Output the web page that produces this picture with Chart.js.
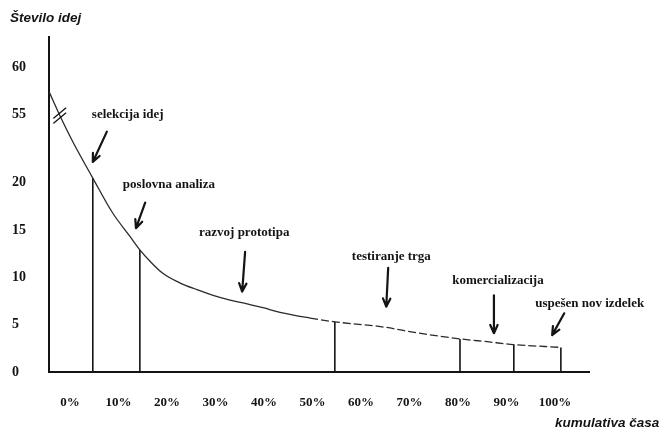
<!DOCTYPE html>
<html>
<head>
<meta charset="utf-8">
<script src="https://cdn.jsdelivr.net/npm/chart.js@4/dist/chart.umd.min.js"></script>
<style>
  html, body { margin: 0; background: #fff; }
  #wrap { width: 663px; height: 430px; }
</style>
</head>
<body>
<div id="wrap"><canvas id="chart" width="663" height="430"></canvas></div>
<script>
// ── data ──────────────────────────────────────────────────────────────────────
const xTicks = [0, 10, 20, 30, 40, 50, 60, 70, 80, 90, 100];
const yTicks = [0, 5, 10, 15, 20, 55, 60];

// number of ideas along cumulative time (%)
const curvePct   = [-4.3, -2.1, 0.6, 4.7, 8.8, 12.4, 14.4, 16.5, 19.2, 22.7, 26.2, 29.5, 33, 36.5, 39.8, 43.3, 49.5, 54.6, 64, 72, 80.4, 86, 91.5, 101.2];
const curveIdeas = [57.4, 54.5, 40.9, 22.4, 16.8, 14.3, 12.9, 11.7, 10.4, 9.4, 8.7, 8.1, 7.6, 7.2, 6.8, 6.3, 5.7, 5.3, 4.8, 4.1, 3.5, 3.2, 2.9, 2.6];

// end of each stage
const stagePct   = [4.7, 14.4, 54.6, 80.4, 91.5, 101.2];
const stageIdeas = [22.4, 12.9, 5.3, 3.5, 2.9, 2.6];
const stageNames = ['selekcija idej', 'poslovna analiza', 'razvoj prototipa', 'testiranje trga', 'komercializacija', 'uspešen nov izdelek'];

// ── broken y axis (20 … 55 squeezed) ─────────────────────────────────────────
const BRK_LO = 20, BRK_HI = 55, GAP = 7.2;
function toDisplay(v) {
  if (v <= BRK_LO) return v;
  if (v >= BRK_HI) return v - BRK_HI + BRK_LO + GAP;
  return BRK_LO + (v - BRK_LO) / (BRK_HI - BRK_LO) * GAP;
}

// annotation placement (x in %, y in display units)
const labelPos = [
  { tx: 4.5,  ty: 27.2, ax: 7.6,   ay: 25.4, bx: 4.7,  by: 22.2 },
  { tx: 10.9, ty: 19.8, ax: 15.5,  ay: 17.9, bx: 13.6, by: 15.2 },
  { tx: 26.6, ty: 14.7, ax: 36.1,  ay: 12.7, bx: 35.5, by: 8.5 },
  { tx: 58.1, ty: 12.2, ax: 65.6,  ay: 11.0, bx: 65.2, by: 6.9 },
  { tx: 78.8, ty: 9.7,  ax: 87.4,  ay: 8.1,  bx: 87.4, by: 4.1 },
  { tx: 95.9, ty: 7.2,  ax: 101.9, ay: 6.2,  bx: 99.4, by: 3.9 }
];

const INK = '#141414';
const SERIF = "'Liberation Serif', 'DejaVu Serif', serif";
const SANS  = "'Liberation Sans', 'DejaVu Sans', sans-serif";

const curveData = curvePct.map((x, i) => ({ x, y: toDisplay(curveIdeas[i]) }));
const stageData = [];
stagePct.forEach((x, i) => {
  stageData.push({ x, y: 0 }, { x, y: toDisplay(stageIdeas[i]) }, { x, y: null });
});

function drawArrow(ctx, x1, y1, x2, y2) {
  const ang = Math.atan2(y2 - y1, x2 - x1);
  const len = 9, spread = 0.42;
  ctx.beginPath();
  ctx.moveTo(x1, y1); ctx.lineTo(x2, y2);
  ctx.moveTo(x2 - len * Math.cos(ang - spread), y2 - len * Math.sin(ang - spread));
  ctx.lineTo(x2, y2);
  ctx.lineTo(x2 - len * Math.cos(ang + spread), y2 - len * Math.sin(ang + spread));
  ctx.stroke();
}

const annotations = {
  id: 'annotations',
  afterDatasetsDraw(chart) {
    const { ctx, scales: { x, y } } = chart;
    ctx.save();
    ctx.strokeStyle = INK; ctx.fillStyle = INK;
    ctx.lineWidth = 2.2; ctx.lineCap = 'round'; ctx.lineJoin = 'round';
    ctx.font = `bold 13px ${SERIF}`;
    ctx.textBaseline = 'middle'; ctx.textAlign = 'left';
    stageNames.forEach((name, i) => {
      const p = labelPos[i];
      ctx.fillText(name, x.getPixelForValue(p.tx), y.getPixelForValue(p.ty));
      drawArrow(ctx, x.getPixelForValue(p.ax), y.getPixelForValue(p.ay),
                x.getPixelForValue(p.bx), y.getPixelForValue(p.by));
    });

    // axis-break mark on the curve
    const cx = x.getPixelForValue(curvePct[1]), cy = y.getPixelForValue(toDisplay(curveIdeas[1]));
    ctx.lineWidth = 1.3;
    [-2.5, 2.5].forEach(o => {
      ctx.beginPath();
      ctx.moveTo(cx - 6, cy + 5 + o);
      ctx.lineTo(cx + 6, cy - 5 + o);
      ctx.stroke();
    });

    // axis titles
    ctx.font = `italic bold 13.5px ${SANS}`;
    ctx.fillText('Število idej', 10, 18);
    ctx.fillText('kumulativa časa', 555, 423);
    ctx.restore();
  }
};

new Chart(document.getElementById('chart'), {
  type: 'scatter',
  data: {
    datasets: [
      {
        data: curveData, showLine: true, pointRadius: 0,
        borderColor: '#2a2a2a', borderWidth: 1.3,
        cubicInterpolationMode: 'monotone',
        segment: { borderDash: c => c.p0.parsed.x > 45 ? [8, 3] : undefined }
      },
      {
        data: stageData, showLine: true, pointRadius: 0, spanGaps: false,
        borderColor: INK, borderWidth: 1.6, tension: 0
      }
    ]
  },
  options: {
    responsive: false, animation: false,
    layout: { padding: { top: 37, right: 74, left: 12, bottom: 0 } },
    plugins: { legend: { display: false }, tooltip: { enabled: false } },
    scales: {
      x: {
        type: 'linear', min: -4.33, max: 107,
        grid: { display: false, drawTicks: false },
        border: { color: INK, width: 2 },
        afterBuildTicks: s => { s.ticks = xTicks.map(v => ({ value: v })); },
        afterFit: s => { s.height = 58; },
        ticks: {
          padding: 23, color: INK, maxRotation: 0,
          font: { family: SERIF, weight: 'bold', size: 13 },
          callback: v => v + '%'
        }
      },
      y: {
        min: 0, max: 35.4,
        grid: { display: false, drawTicks: false },
        border: { color: INK, width: 2 },
        afterBuildTicks: s => { s.ticks = yTicks.map(v => ({ value: toDisplay(v) })); },
        afterFit: s => { s.width = 37; },
        ticks: {
          crossAlign: 'far', color: INK,
          font: { family: SERIF, weight: 'bold', size: 14 },
          callback: (v, i) => yTicks[i]
        }
      }
    }
  },
  plugins: [annotations]
});
</script>
</body>
</html>
